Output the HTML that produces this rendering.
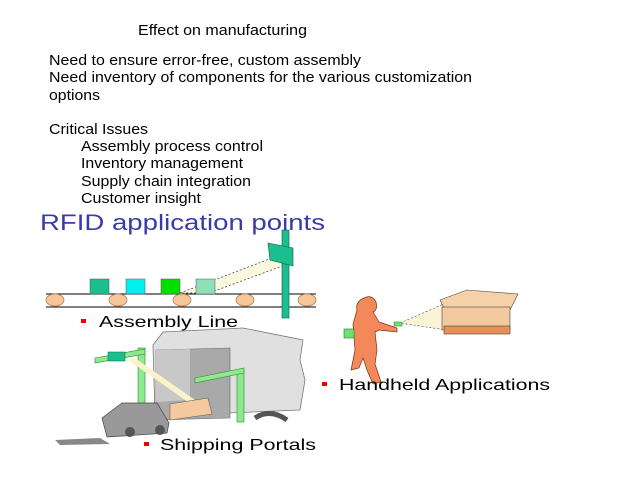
<!DOCTYPE html>
<html><head><style>
body{margin:0;background:#fff}
svg{display:block}
text{font-family:"Liberation Sans",sans-serif}
</style></head><body>
<svg width="638" height="479" viewBox="0 0 638 479" xmlns="http://www.w3.org/2000/svg">
<g font-size="15" fill="#000" lengthAdjust="spacingAndGlyphs">
<text x="138" y="35" textLength="169" lengthAdjust="spacingAndGlyphs">Effect on manufacturing</text>
<text x="49" y="65" textLength="312" lengthAdjust="spacingAndGlyphs">Need to ensure error-free, custom assembly</text>
<text x="49" y="82" textLength="423" lengthAdjust="spacingAndGlyphs">Need inventory of components for the various customization</text>
<text x="49" y="100" textLength="51" lengthAdjust="spacingAndGlyphs">options</text>
<text x="49" y="134" textLength="99" lengthAdjust="spacingAndGlyphs">Critical Issues</text>
<text x="81" y="151" textLength="182" lengthAdjust="spacingAndGlyphs">Assembly process control</text>
<text x="81" y="168" textLength="162" lengthAdjust="spacingAndGlyphs">Inventory management</text>
<text x="81" y="186" textLength="170" lengthAdjust="spacingAndGlyphs">Supply chain integration</text>
<text x="81" y="203" textLength="120" lengthAdjust="spacingAndGlyphs">Customer insight</text>
</g>
<text x="40" y="230" font-size="22" fill="#3b3ba8" textLength="285" lengthAdjust="spacingAndGlyphs">RFID application points</text>
<!-- assembly line -->
<polygon points="180,293 280,255 285,265 209,293" fill="#fbf8e0" stroke="#333" stroke-dasharray="2,2" stroke-width="0.7"/>
<line x1="46" y1="294" x2="316" y2="294" stroke="#000"/>
<line x1="46" y1="307" x2="316" y2="307" stroke="#000"/>
<g fill="#f7c79a" stroke="#b08060" stroke-width="0.8">
<ellipse cx="55" cy="300" rx="9" ry="6"/><ellipse cx="118" cy="300" rx="9" ry="6"/>
<ellipse cx="182" cy="300" rx="9" ry="6"/><ellipse cx="245" cy="300" rx="9" ry="6"/>
<ellipse cx="307" cy="300" rx="9" ry="6"/></g>
<rect x="90" y="279" width="19" height="15" fill="#1bbf8f" stroke="#555" stroke-width="0.5"/>
<rect x="126" y="279" width="19" height="15" fill="#00f0f0" stroke="#555" stroke-width="0.5"/>
<rect x="161" y="279" width="19" height="15" fill="#00e000" stroke="#555" stroke-width="0.5"/>
<rect x="196" y="279" width="19" height="15" fill="#8fe0b8" stroke="#555" stroke-width="0.5"/>
<rect x="282" y="230" width="7" height="88" fill="#1bbf8f" stroke="#0a6040" stroke-width="0.6"/>
<polygon points="268,243 293,248 293,266 270,260" fill="#1bbf8f" stroke="#0a6040" stroke-width="0.6"/>
<!-- handheld -->
<polygon points="400,323 446,303 446,330" fill="#fbf3d8" stroke="#444" stroke-dasharray="2,2" stroke-width="0.6"/>
<polygon points="440,300 467,290 518,294 510,310 446,312" fill="#f5d1a8" stroke="#444" stroke-width="0.6"/>
<rect x="442" y="307" width="68" height="23" fill="#f5c9a0" stroke="#444" stroke-width="0.6"/>
<rect x="444" y="326" width="66" height="8" fill="#e8905a" stroke="#444" stroke-width="0.6"/>
<path d="M364,298 q8,-4 12,4 q2,8 -3,10 l6,10 l18,6 l0,4 l-18,-2 l-4,2 l2,18 l-2,14 l6,18 l-8,2 l-6,-14 l-4,-12 l-4,10 l-8,2 l4,-20 l-2,-26 l4,-14 q-2,-8 7,-12z" fill="#f3895a" stroke="#7a3010" stroke-width="0.7"/>
<rect x="344" y="329" width="10" height="9" fill="#6ee06e" stroke="#2a7a2a" stroke-width="0.6"/>
<rect x="394" y="322" width="8" height="4" fill="#6ee06e" stroke="#2a7a2a" stroke-width="0.5"/>
<!-- shipping -->
<path d="M153,345 l10,-13 l80,-4 l60,12 l-3,20 l5,20 l-5,30 l-145,6 z" fill="#e0e0e0" stroke="#777" stroke-width="0.8"/>
<polygon points="156,350 230,348 230,418 156,420" fill="#a9a9a9" stroke="#666" stroke-width="0.6"/>
<polygon points="156,350 190,349 190,400 156,402" fill="#c8c8c8"/>
<path d="M255,418 q15,-10 32,2" fill="none" stroke="#555" stroke-width="5"/>
<rect x="138" y="348" width="7" height="70" fill="#8fe88f" stroke="#2a8a2a" stroke-width="0.6"/>
<rect x="237" y="370" width="7" height="52" fill="#8fe88f" stroke="#2a8a2a" stroke-width="0.6"/>
<polygon points="95,358 145,349 145,354 95,363" fill="#8fe88f" stroke="#2a8a2a" stroke-width="0.6"/>
<polygon points="195,378 244,368 244,373 195,383" fill="#8fe88f" stroke="#2a8a2a" stroke-width="0.6"/>
<rect x="108" y="352" width="17" height="9" fill="#1bbf8f" stroke="#0a6040" stroke-width="0.5"/>
<polygon points="128,360 135,358 195,400 188,402" fill="#f8f3c8"/>
<polygon points="170,404 208,398 212,414 170,420" fill="#f5c9a0" stroke="#665" stroke-width="0.6"/>
<path d="M102,418 l20,-15 l35,0 l12,20 l-2,10 l-60,4 z" fill="#999" stroke="#444" stroke-width="0.7"/>
<circle cx="130" cy="432" r="5" fill="#555"/><circle cx="160" cy="430" r="5" fill="#555"/>
<polygon points="55,440 100,438 110,444 60,445" fill="#888"/>
<!-- labels -->
<rect x="81" y="319" width="5" height="4" fill="#e00"/>
<text x="99" y="327" font-size="16" textLength="139" lengthAdjust="spacingAndGlyphs">Assembly Line</text>
<rect x="322" y="382" width="5" height="4" fill="#e00"/>
<text x="339" y="390" font-size="16" textLength="211" lengthAdjust="spacingAndGlyphs">Handheld Applications</text>
<rect x="144" y="442" width="5" height="4" fill="#e00"/>
<text x="160" y="450" font-size="16" textLength="156" lengthAdjust="spacingAndGlyphs">Shipping Portals</text>
</svg>
</body></html>
